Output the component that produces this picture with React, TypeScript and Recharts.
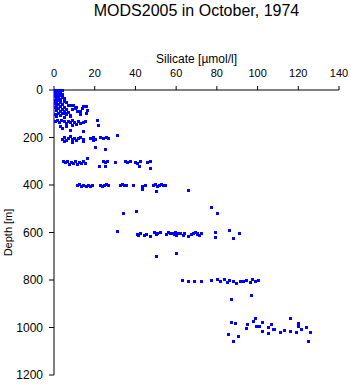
import { ScatterChart, Scatter, XAxis, YAxis } from "recharts";

const siTicks = [0, 20, 40, 60, 80, 100, 120, 140];
const depthTicks = [0, 200, 400, 600, 800, 1000, 1200];

// [silicate µmol/l, depth m]
const surface: [number, number][] = [
  [0.5, 0], [1, 0], [2, 0], [3, 0], [4, 2], [0.5, 5], [1.5, 8], [3, 10], [0.5, 12],
  [2, 15], [4, 18], [1, 20], [3, 22], [0.5, 25], [2, 28], [4, 30], [5, 32], [1, 35],
  [3, 38], [0.5, 40], [2, 42], [5, 45], [1, 48], [3, 50], [6, 52], [0.5, 55], [2, 58],
  [4, 60], [7, 62], [9.3, 63], [1, 65], [3, 68], [5, 70], [8, 65], [0.5, 72], [2, 75],
  [4, 78], [6, 80], [9, 82], [1, 85], [3, 88], [5, 90], [7, 92], [2, 95], [4, 98],
  [0.5, 100], [6, 102], [3, 105], [8, 108], [1, 110], [5, 112],
];

const upper: [number, number][] = [
  [13.8, 76], [14.2, 67], [15.7, 67], [16.2, 84], [15.7, 97], [11.3, 88], [7.9, 105],
  [10.3, 76], [5.4, 97], [12.8, 101], [11, 70], [13, 90],
  [0.5, 130], [1.5, 125], [2.5, 135], [3.5, 128], [5, 132], [6, 140], [7, 130], [8, 136],
  [9, 128], [10, 134], [11, 145], [12, 131], [13, 137], [14, 133], [15, 130], [21, 126],
  [21.6, 147], [3, 150], [6, 152], [9, 148], [7.9, 168], [14.2, 173], [4, 160],
];

const d200: [number, number][] = [
  [4, 205], [5, 198], [6, 210], [7, 202], [8, 195], [9, 208], [10, 200], [11, 212],
  [12, 204], [13, 198], [14, 206], [17.7, 200], [19, 196], [20, 205], [22.6, 198],
  [24, 202], [25.5, 196], [26.5, 204], [31, 189], [20, 240], [25, 248], [5, 215],
  [9, 218], [14, 216], [19, 212],
];

const d300: [number, number][] = [
  [4.4, 300], [5.4, 305], [6.4, 298], [7.4, 310], [8.4, 302], [9.3, 307], [10.3, 300],
  [11.3, 312], [12.3, 304], [13.3, 308], [14.2, 300], [15.2, 306], [16.2, 286],
  [24.1, 300], [25.1, 304], [26, 298], [30, 302], [34.9, 300], [35.9, 305], [37.3, 298],
  [39.8, 302], [40.8, 308], [42.2, 300], [45.7, 305], [47.2, 300], [47.2, 328],
  [22.1, 320], [41.8, 320], [25.1, 320],
];

const d400: [number, number][] = [
  [11.3, 400], [12.3, 395], [13.3, 404], [14.2, 398], [15.7, 406], [16.7, 400],
  [17.7, 404], [18.7, 402], [22.6, 398], [23.6, 404], [24.6, 400], [25.5, 396],
  [26.5, 402], [32.4, 398], [33.4, 396], [34.4, 400], [35.4, 398], [38.8, 402],
  [43.2, 404], [44.7, 398], [48.6, 400], [49.6, 396], [50.6, 404], [51.6, 398],
  [52.5, 394], [53.5, 402], [54.5, 398], [43.2, 417], [50.1, 425], [65.8, 421],
];

const d600: [number, number][] = [
  [33.9, 518], [40.3, 509], [77.1, 493], [80.1, 518], [30.9, 594],
  [40.6, 605], [41.1, 610], [42.2, 600], [44.4, 612], [45.2, 606], [47.2, 614],
  [49.3, 598], [50.1, 606], [50.5, 600], [52.1, 596], [55, 608], [56.2, 598],
  [57, 604], [57.8, 602], [59, 606], [59.4, 598], [59.9, 612], [60.6, 600],
  [61.9, 604], [63.2, 610], [64, 602], [66, 614], [67.1, 606], [68.4, 600],
  [69.3, 596], [70.1, 604], [70.4, 608], [71.2, 612], [72.2, 602],
  [79.1, 598], [79.1, 619], [86, 589], [87.9, 623], [90.9, 602],
  [50.1, 699], [59.9, 686],
];

const d800: [number, number][] = [
  [62.9, 800], [65.8, 804], [68.8, 804], [72.2, 804], [77.1, 800], [80.1, 796],
  [81.5, 804], [83.5, 796], [85, 808], [86, 800], [87.9, 804], [89.4, 813],
  [91.4, 804], [92.8, 804], [94.3, 800], [96.3, 808], [97.3, 796], [98.7, 804],
  [100.2, 800], [86.9, 880], [96.8, 863],
];

const d1000: [number, number][] = [
  [86.9, 977], [88.9, 981], [85.5, 1027], [87.9, 1057], [90.4, 1036], [94.8, 985],
  [94.3, 1002], [98.7, 960], [97.7, 973], [99.2, 994], [100.7, 994], [102.2, 977],
  [102.2, 1015], [105.1, 998], [105.1, 1023], [106.6, 985], [107.6, 1006],
  [108.1, 1006], [111, 1019], [113, 1011], [115.9, 960], [115.9, 1015], [118.9, 1019],
  [119.9, 981], [119.9, 994], [121.3, 1006], [123.8, 998], [125.7, 1019], [124.8, 1057],
];

const points = [...surface, ...upper, ...d200, ...d300, ...d400, ...d600, ...d800, ...d1000].map(
  ([si, depth]) => ({ si, depth })
);

function Square(props: any) {
  const { cx, cy } = props;
  return (
    <rect
      x={Math.round(cx) - 1}
      y={Math.round(cy) - 1}
      width={3}
      height={3}
      fill="#0000ff"
      shapeRendering="crispEdges"
    />
  );
}

export default function App() {
  return (
    <div
      style={{
        position: "absolute",
        left: 0,
        top: 0,
        width: 351,
        height: 384,
        background: "#fff",
        fontFamily: "'Liberation Sans', Arial, sans-serif",
      }}
    >
      <div
        style={{
          position: "absolute",
          left: 54,
          width: 285,
          top: 2,
          textAlign: "center",
          fontSize: 16,
          color: "#000",
        }}
      >
        MODS2005 in October, 1974
      </div>
      <ScatterChart width={351} height={384} margin={{ top: 60, right: 12, bottom: 9, left: 0 }}>
        <XAxis
          dataKey="si"
          type="number"
          orientation="top"
          domain={[0, 140]}
          ticks={siTicks}
          height={30}
          tickSize={4}
          tickMargin={9}
          axisLine={{ stroke: "#000" }}
          tickLine={{ stroke: "#000" }}
          tick={{ fill: "#000", fontSize: 11 }}
          label={{ value: "Silicate [µmol/l]", position: "top", offset: -3, fill: "#000", fontSize: 12 }}
        />
        <YAxis
          dataKey="depth"
          type="number"
          reversed
          domain={[0, 1200]}
          ticks={depthTicks}
          width={54}
          tickSize={5}
          tickMargin={6}
          axisLine={{ stroke: "#000" }}
          tickLine={{ stroke: "#000" }}
          tick={{ fill: "#000", fontSize: 12 }}
          label={{
            value: "Depth [m]",
            angle: -90,
            position: "insideLeft",
            offset: 8,
            fill: "#000",
            fontSize: 11,
            style: { textAnchor: "middle" },
          }}
        />
        <Scatter data={points} shape={<Square />} isAnimationActive={false} />
      </ScatterChart>
    </div>
  );
}
